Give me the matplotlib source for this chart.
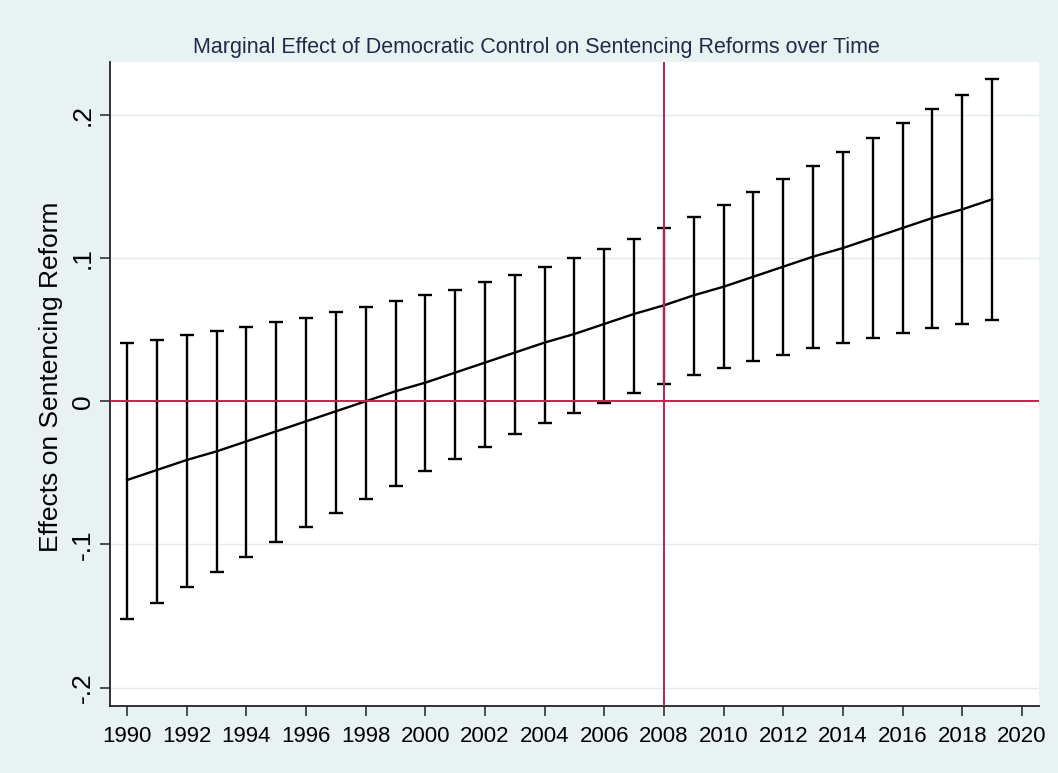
import numpy as np
import matplotlib.pyplot as plt

# point estimates and 95% CI bounds
years = list(range(1990, 2020))
effect = [-0.055, -0.048, -0.041, -0.035, -0.028, -0.021, -0.014, -0.007, 0.000, 0.007,
          0.013, 0.020, 0.027, 0.034, 0.041, 0.047, 0.054, 0.061, 0.067, 0.074,
          0.080, 0.087, 0.094, 0.101, 0.107, 0.114, 0.121, 0.128, 0.134, 0.141]
upper = [0.041, 0.043, 0.046, 0.049, 0.052, 0.055, 0.058, 0.062, 0.066, 0.070,
         0.074, 0.078, 0.083, 0.088, 0.094, 0.100, 0.106, 0.113, 0.121, 0.129,
         0.137, 0.146, 0.155, 0.164, 0.174, 0.184, 0.194, 0.204, 0.214, 0.225]
lower = [-0.152, -0.141, -0.130, -0.119, -0.109, -0.098, -0.088, -0.078, -0.068, -0.059,
         -0.049, -0.040, -0.032, -0.023, -0.015, -0.008, -0.001, 0.006, 0.012, 0.018,
         0.023, 0.028, 0.032, 0.037, 0.041, 0.044, 0.048, 0.051, 0.054, 0.057]

ytick_vals = [-0.2, -0.1, 0.0, 0.1, 0.2]
ytick_labels = ["-.2", "-.1", "0", ".1", ".2"]
xtick_vals = list(range(1990, 2021, 2))
ref_year = 2008

bg = '#e9f2f3'
red = '#c8204c'

plt.rcParams['font.family'] = ['Liberation Sans', 'DejaVu Sans']

fig = plt.figure(figsize=(10.58, 7.73), dpi=100, facecolor=bg)
ax = fig.add_axes([0.104, 0.087, 0.878, 0.833])
ax.set_facecolor('white')

effect = np.array(effect)
upper = np.array(upper)
lower = np.array(lower)

ax.errorbar(years, effect, yerr=[effect - lower, upper - effect], fmt='none',
            ecolor='black', elinewidth=1.7, capsize=5.2, capthick=1.7, zorder=2)
ax.plot(years, effect, color='black', lw=1.7, zorder=2)

ax.axhline(0, color=red, lw=1.4, zorder=3)
ax.axvline(ref_year, color=red, lw=1.4, zorder=3)

ax.set_xlim(1989.43, 2020.57)
ax.set_ylim(-0.2126, 0.237)

ax.set_xticks(xtick_vals)
ax.set_xticklabels([str(v) for v in xtick_vals], fontsize=16)
ax.set_yticks(ytick_vals)
ax.set_yticklabels(ytick_labels, rotation=90, va='center', fontsize=19)

ax.grid(axis='y', color='#e3ebee', lw=1.0, zorder=0)
ax.set_axisbelow(True)

for s in ['top', 'right']:
    ax.spines[s].set_visible(False)
for s in ['left', 'bottom']:
    ax.spines[s].set_linewidth(1.3)
    ax.spines[s].set_color('#222222')

ax.tick_params(axis='both', direction='out', length=7.5, width=1.1, color='#222222')
ax.tick_params(axis='x', pad=7)
ax.tick_params(axis='y', pad=3.5)

ax.set_ylabel('Effects on Sentencing Reform', fontsize=19)
ax.yaxis.set_label_coords(-0.0506, 0.511)

fig.text(0.507, 0.939, 'Marginal Effect of Democratic Control on Sentencing Reforms over Time',
         ha='center', va='center', fontsize=15.5, color='#1f2b4a')

fig.savefig('out.png', dpi=100, facecolor=bg)
